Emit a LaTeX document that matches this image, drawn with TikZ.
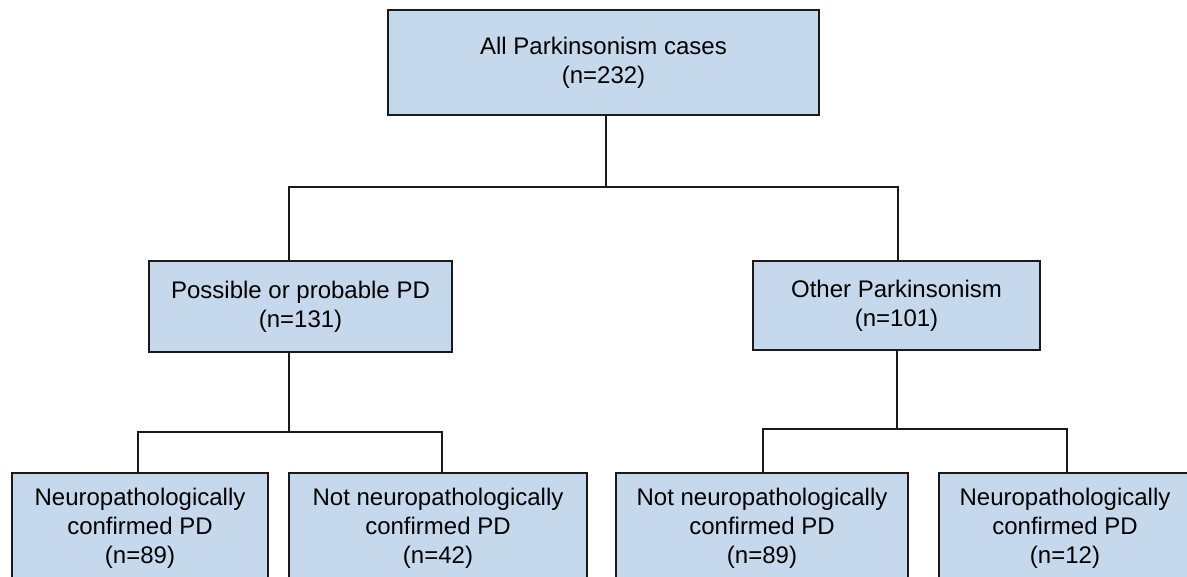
\documentclass[tikz,border=0pt]{standalone}
\usepackage{fontspec}
\setmainfont{Liberation Sans}
\usetikzlibrary{positioning}
\definecolor{boxfill}{RGB}{198,217,236}
\definecolor{edge}{RGB}{26,26,26}

\begin{document}
\begin{tikzpicture}[x=1pt,y=-1pt,
		box/.style={draw=edge, line width=1.8pt, fill=boxfill, align=center, inner sep=0pt,
			font=\fontsize{24}{29}\selectfont},
		link/.style={draw=edge, line width=1.4pt}]
			% Canvas
			\useasboundingbox (0,0) rectangle (1187,577);
			\clip (0,0) rectangle (1187,577);
			% Top level
			\node[box, minimum width=431pt, minimum height=105pt] (all) at (603.5,62.5) {All Parkinsonism cases\\(n=232)};
			% Clinical diagnosis
			\node[box, minimum width=303pt, minimum height=91pt] (pd) at (300.5,306.5) {Possible or probable PD\\(n=131)};
			\node[box, minimum width=287pt, minimum height=89pt] (other) at (896.5,305.5) {Other Parkinsonism\\(n=101)};
			% Neuropathology (cut off at the bottom)
			\node[box, anchor=north, minimum width=256pt, minimum height=110pt] (pdyes) at (140,472) {Neuropathologically\\confirmed PD\\(n=89)};
			\node[box, anchor=north, minimum width=298pt, minimum height=110pt] (pdno) at (438,472) {Not neuropathologically\\confirmed PD\\(n=42)};
			\node[box, anchor=north, minimum width=292pt, minimum height=110pt] (otherno) at (762,472) {Not neuropathologically\\confirmed PD\\(n=89)};
			\node[box, anchor=north, minimum width=252pt, minimum height=110pt] (otheryes) at (1065,472) {Neuropathologically\\confirmed PD\\(n=12)};
			% Links
			\coordinate (split) at (606,187);
			\coordinate (splitL) at (289,187);
			\coordinate (splitR) at (898,187);
			\draw[link] (all.south -| split) -- (split);
			\draw[link] (pd.north -| splitL) -- (splitL) -- (splitR) -- (other.north -| splitR);
			\coordinate (pdL) at (138,432);
			\coordinate (pdR) at (442,432);
			\draw[link] (pd.south -| splitL) -- (splitL |- pdL);
			\draw[link] (pdyes.north -| pdL) -- (pdL) -- (pdR) -- (pdno.north -| pdR);
			\coordinate (otherStem) at (897,429);
			\coordinate (otherL) at (763,429);
			\coordinate (otherR) at (1067,429);
			\draw[link] (other.south -| otherStem) -- (otherStem);
			\draw[link] (otherno.north -| otherL) -- (otherL) -- (otherR) -- (otheryes.north -| otherR);
		\end{tikzpicture}
\end{document}
